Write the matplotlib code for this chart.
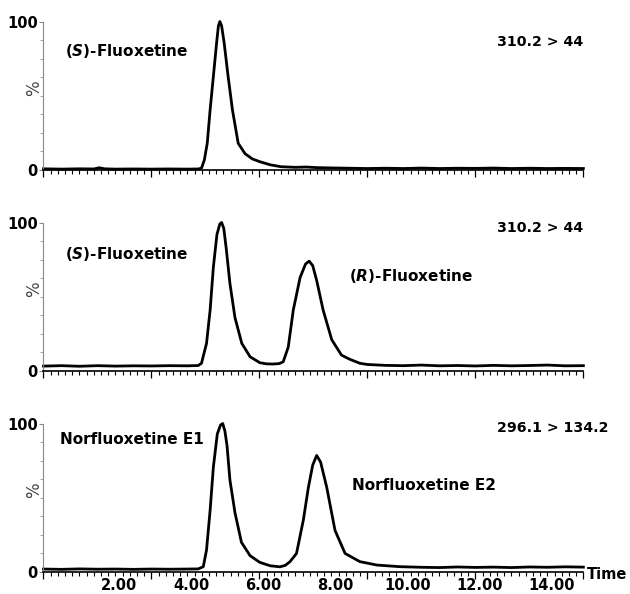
import matplotlib
matplotlib.use("Agg")
import matplotlib.pyplot as plt
import matplotlib.transforms as mtransforms
from matplotlib.ticker import MultipleLocator, NullFormatter

plt.rcParams['font.family'] = ['DejaVu Sans']
plt.rcParams['mathtext.fontset'] = 'dejavusans'

# (S)-Fluoxetine, 310.2 > 44
top_t = [0.0, 0.5, 1.0, 1.4, 1.55, 1.7, 2.0, 2.5, 3.0, 3.5, 4.0, 4.3,
         4.39, 4.47, 4.55, 4.63, 4.72, 4.81, 4.86, 4.90, 4.95, 5.02, 5.13, 5.25,
         5.41, 5.6, 5.8, 6.01, 6.3, 6.6, 7.0, 7.3, 7.6, 8.0, 8.5, 9.0,
         9.5, 10.0, 10.5, 11.0, 11.5, 12.0, 12.5, 13.0, 13.5, 14.0, 14.5, 15.0]
top_y = [0.8, 0.6, 0.8, 0.7, 1.5, 0.8, 0.6, 0.7, 0.6, 0.7, 0.6, 0.7,
         1.2, 6.8, 18, 40.5, 63, 85.6, 97, 100, 97, 85.6, 63, 40.5,
         18, 11, 7.5, 5.6, 3.5, 2.2, 1.8, 2.0, 1.6, 1.4, 1.2, 1.0,
         1.2, 1.0, 1.3, 1.0, 1.2, 1.1, 1.3, 1.0, 1.2, 1.0, 1.1, 1.0]

# (S)- and (R)-Fluoxetine, 310.2 > 44
mid_t = [0.0, 0.5, 1.0, 1.5, 2.0, 2.5, 3.0, 3.5, 4.0, 4.3,
         4.39, 4.53, 4.63, 4.72, 4.82, 4.90, 4.95, 5.01, 5.08, 5.18,
         5.32, 5.51, 5.74, 6.01, 6.2, 6.38, 6.55, 6.66, 6.80, 6.94,
         7.13, 7.28, 7.38, 7.48, 7.59, 7.77, 8.01, 8.28, 8.51, 8.79,
         9.0, 9.5, 10.0, 10.5, 11.0, 11.5, 12.0, 12.5, 13.0, 13.5,
         14.0, 14.5, 15.0]
mid_y = [3.3, 3.6, 3.2, 3.6, 3.3, 3.5, 3.4, 3.6, 3.5, 3.7,
         5.2, 18.6, 41, 70, 92, 99, 100, 96, 82, 59,
         36, 18.6, 9.6, 5.6, 4.8, 4.7, 5.0, 6.2, 16, 41,
         63, 72, 74, 71, 61, 41, 21, 10.7, 7.9, 5.2,
         4.4, 3.8, 3.6, 4.0, 3.5, 3.7, 3.4, 3.8, 3.5, 3.7,
         4.0, 3.5, 3.6]

# Norfluoxetine E1 / E2, 296.1 > 134.2
bot_t = [0.0, 0.5, 1.0, 1.5, 2.0, 2.5, 3.0, 3.5, 4.0, 4.3,
         4.44, 4.53, 4.63, 4.72, 4.83, 4.92, 4.98, 5.04, 5.10, 5.18,
         5.32, 5.5, 5.74, 6.01, 6.3, 6.57, 6.72, 6.85, 7.03, 7.22,
         7.36, 7.48, 7.59, 7.70, 7.87, 8.10, 8.38, 8.79, 9.26, 9.9,
         10.5, 11.0, 11.5, 12.0, 12.5, 13.0, 13.5, 14.0, 14.5, 15.0]
bot_y = [2.0, 1.8, 2.1, 1.9, 2.0, 1.8, 2.0, 1.9, 2.0, 2.1,
         3.6, 14.8, 41.6, 70.7, 93, 99, 100, 95, 85, 62,
         40, 20, 11, 6.5, 4.2, 3.5, 4.5, 7, 12.5, 35,
         57, 72, 78.5, 74, 57, 28, 12.5, 7, 4.7, 3.6,
         3.2, 3.0, 3.4, 3.1, 3.3, 3.0, 3.4, 3.2, 3.5, 3.3]

x_labels = ['2.00', '4.00', '6.00', '8.00', '10.00', '12.00', '14.00']
x_label_pos = [2, 4, 6, 8, 10, 12, 14]

panels = [
    (top_t, top_y, 0.7138,
     [(0.04, 0.80, r'($\mathbfit{S}$)-Fluoxetine', 11), (0.84, 0.86, '310.2 > 44', 10.2)]),
    (mid_t, mid_y, 0.3754,
     [(0.04, 0.79, r'($\mathbfit{S}$)-Fluoxetine', 11), (0.84, 0.965, '310.2 > 44', 10.2),
      (0.566, 0.64, r'($\mathbfit{R}$)-Fluoxetine', 11)]),
    (bot_t, bot_y, 0.0370,
     [(0.03, 0.89, 'Norfluoxetine E1', 11), (0.84, 0.972, '296.1 > 134.2', 10.2),
      (0.571, 0.585, 'Norfluoxetine E2', 11)]),
]

fig = plt.figure(figsize=(6.3, 5.94), dpi=100)

for i, (t, y, bottom, notes) in enumerate(panels):
    ax = fig.add_axes([0.069, bottom, 0.857, 0.2500])
    ax.plot(t, y, color='black', lw=2.0, clip_on=False, solid_joinstyle='round')
    ax.set_xlim(0, 15)
    ax.set_ylim(0, 100)

    for s in ['top', 'right']:
        ax.spines[s].set_visible(False)
    ax.spines['left'].set_color('#888888')
    ax.spines['left'].set_linewidth(0.8)
    ax.spines['bottom'].set_color('black')
    ax.spines['bottom'].set_linewidth(1.2)

    # x ticks: tall ones every 3, small ones every 0.2
    ax.set_xticks([0, 3, 6, 9, 12, 15])
    ax.xaxis.set_minor_locator(MultipleLocator(0.2))
    ax.xaxis.set_major_formatter(NullFormatter())
    ax.tick_params(axis='x', which='major', length=5, width=0.9, color='black')
    ax.tick_params(axis='x', which='minor', length=3, width=0.8, color='black')

    ax.set_yticks([0, 100])
    ax.set_yticklabels(['0', '100'], fontweight='bold', fontsize=10.5)
    ax.yaxis.set_minor_locator(MultipleLocator(12.5))
    ax.tick_params(axis='y', which='major', length=3, width=0.8, color='#888888', pad=1)
    ax.tick_params(axis='y', which='minor', length=2, width=0.6, color='#999999')

    ax.text(-0.018, 0.55, '%', rotation=90, ha='center', va='center',
            transform=ax.transAxes, fontsize=12, color='#444444')

    for x, yy, s, fs in notes:
        ax.text(x, yy, s, transform=ax.transAxes, ha='left', va='center',
                fontsize=fs, fontweight='bold')

    if i == 2:
        sec = ax.secondary_xaxis('bottom')
        sec.set_xticks(x_label_pos)
        sec.set_xticklabels(x_labels, fontweight='bold', fontsize=10.5)
        sec.tick_params(length=0, pad=4)
        sec.spines['bottom'].set_visible(False)
        shift = mtransforms.ScaledTranslation(4 / 100, 0, fig.dpi_scale_trans)
        for lbl in sec.get_xticklabels():
            lbl.set_transform(lbl.get_transform() + shift)
        ax.text(1.006, -0.02, 'Time', transform=ax.transAxes, ha='left',
                va='center', fontsize=10.5, fontweight='bold')

fig.savefig('out.png', dpi=100)
